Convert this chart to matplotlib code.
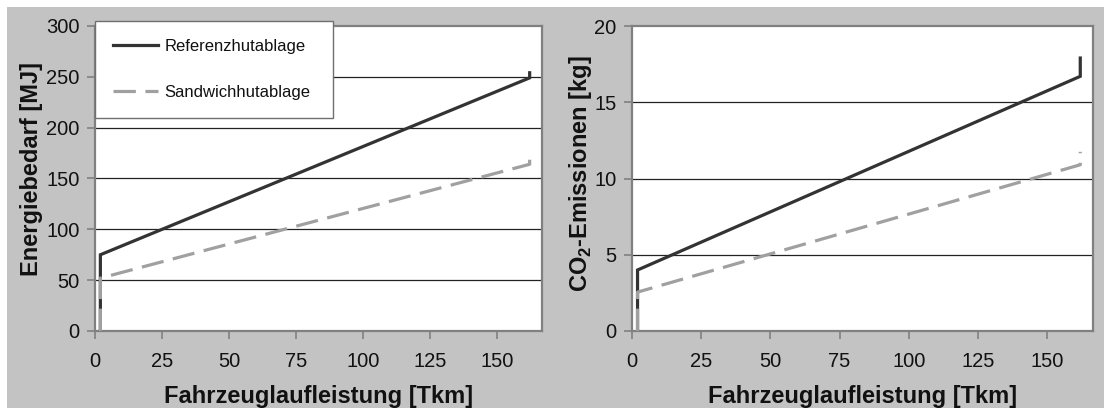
import matplotlib
matplotlib.use("Agg")
import matplotlib.pyplot as plt
from matplotlib.patches import Rectangle

plt.rcParams["font.family"] = ["Liberation Sans", "DejaVu Sans"]
plt.rcParams["mathtext.fontset"] = "custom"
plt.rcParams["mathtext.rm"] = "Liberation Sans:bold"
plt.rcParams["mathtext.bf"] = "Liberation Sans:bold"

# Vehicle mileage [Tkm] at the break points of each curve
mileage = [2, 2, 162, 162]

# Energy demand [MJ]
energy_ref = [0, 75, 249, 254]
energy_sandwich = [0, 52, 164, 170]

# CO2 emissions [kg]
co2_ref = [0, 4.0, 16.7, 17.9]
co2_sandwich = [0, 2.55, 10.9, 11.75]

series_labels = ["Referenzhutablage", "Sandwichhutablage"]
x_ticks = [0, 25, 50, 75, 100, 125, 150]
energy_ticks = [0, 50, 100, 150, 200, 250, 300]
co2_ticks = [0, 5, 10, 15, 20]

W, H = 1104, 408
fig = plt.figure(figsize=(W / 100, H / 100), dpi=100, facecolor="white")

BG = "#c3c3c3"
fig.patches.append(Rectangle((7 / W, 0), 1 - 7 / W, 1 - 7 / H,
                             transform=fig.transFigure, facecolor=BG,
                             edgecolor="none", zorder=-10))

REF_C = "#333333"
SAN_C = "#a0a0a0"
SPINE_C = "#808080"


def make_axes(x0, x1, y_top, y_bot):
    return fig.add_axes([x0 / W, 1 - y_bot / H, (x1 - x0) / W, (y_bot - y_top) / H])


def style(ax, yticks, ylabel, xlabel_center):
    ax.set_facecolor("white")
    ax.set_xlim(0, 166.6)
    ax.set_ylim(yticks[0], yticks[-1])
    ax.set_xticks(x_ticks)
    ax.set_yticks(yticks)
    for s in ax.spines.values():
        s.set_color(SPINE_C)
        s.set_linewidth(1.6)
    ax.tick_params(axis="both", direction="out", length=6, width=1.2,
                   color=SPINE_C, labelsize=14.5, labelcolor="#111111")
    ax.tick_params(axis="y", pad=5)
    ax.tick_params(axis="x", pad=9)
    for t in yticks[1:-1]:
        ax.axhline(t, color="#222222", lw=0.9, zorder=1)
    ax.set_ylabel(ylabel, fontsize=17, fontweight="bold", color="#111111")
    fig.text(xlabel_center / W, 1 - 403 / H, "Fahrzeuglaufleistung [Tkm]",
             ha="center", va="baseline", fontsize=17, fontweight="bold",
             color="#111111")


# Left panel: energy demand
ax1 = make_axes(95, 542, 26, 331)
style(ax1, energy_ticks, "Energiebedarf [MJ]", 318.5)
ax1.yaxis.set_label_coords(-(95 - 43) / (542 - 95), (331 - 168.5) / 305)
l1, = ax1.plot(mileage, energy_ref, color=REF_C, lw=2.3, zorder=3,
               solid_joinstyle="miter", label=series_labels[0])
l2, = ax1.plot(mileage, energy_sandwich, color=SAN_C, lw=2.3, zorder=4,
               dashes=(7, 3), label=series_labels[1])
leg = ax1.legend(handles=[l1, l2], loc="upper left", mode="expand",
                 bbox_to_anchor=(95 / W, 1 - 117 / H, 238 / W, 96 / H),
                 bbox_transform=fig.transFigure, borderaxespad=0,
                 fontsize=12, frameon=True, fancybox=False,
                 edgecolor="#707070", facecolor="white", framealpha=1,
                 borderpad=1.05, labelspacing=1.9, handlelength=2.75,
                 handletextpad=0.35)
leg.get_frame().set_linewidth(1.0)
leg.set_zorder(10)
for txt in leg.get_texts():
    txt.set_color("#111111")

# Right panel: CO2 emissions
ax2 = make_axes(632, 1093, 26, 331)
style(ax2, co2_ticks, r"CO$_{2}$-Emissionen [kg]", 862.5)
ax2.yaxis.set_label_coords(-(632 - 594) / (1093 - 632), (331 - 173.5) / 305)
ax2.plot(mileage, co2_ref, color=REF_C, lw=2.3, zorder=3, solid_joinstyle="miter")
ax2.plot(mileage, co2_sandwich, color=SAN_C, lw=2.3, zorder=4, dashes=(7, 3))

fig.savefig("out.png", dpi=100, facecolor=fig.get_facecolor())
